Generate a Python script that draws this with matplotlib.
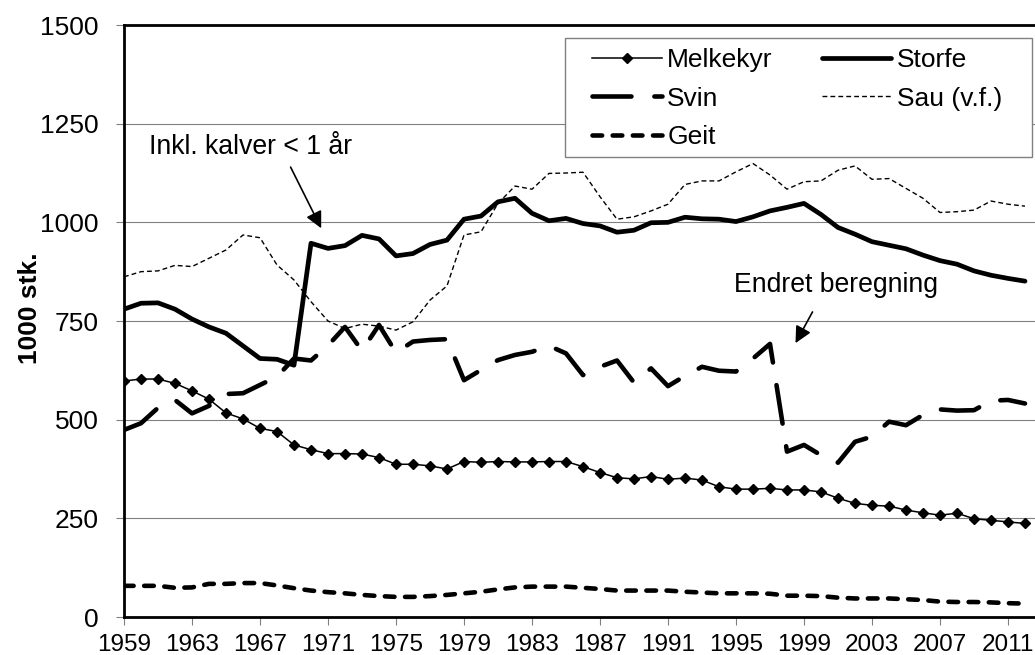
import numpy as np
import matplotlib
matplotlib.use("Agg")
import matplotlib.pyplot as plt
from matplotlib.patches import Rectangle

plt.rcParams['font.family'] = ['Liberation Sans', 'DejaVu Sans']

# Data (1000 stk.)
aar = list(range(1959, 2013))

melkekyr = [598, 603, 603, 592, 573, 552, 517, 502, 478, 470,
            436, 424, 414, 414, 413, 404, 387, 387, 383, 375,
            394, 392, 394, 393, 393, 394, 394, 381, 366, 353,
            350, 356, 349, 352, 347, 330, 324, 324, 326, 322,
            322, 317, 301, 288, 283, 281, 271, 264, 258, 263,
            249, 245, 241, 237]

storfe = [780, 795, 796, 780, 755, 735, 719, 687, 655, 653,
          638, 947, 934, 941, 967, 958, 915, 921, 944, 955,
          1008, 1016, 1052, 1061, 1023, 1004, 1010, 997, 991, 975,
          980, 999, 1000, 1013, 1009, 1008, 1002, 1014, 1029, 1038,
          1048, 1020, 987, 970, 951, 942, 933, 917, 903, 894,
          877, 866, 858, 851]

svin = [474, 491, 530, 550, 516, 535, 565, 567, 588, 609,
        655, 650, 688, 735, 675, 740, 670, 698, 702, 704,
        600, 626, 651, 664, 672, 687, 668, 613, 634, 650,
        594, 630, 585, 611, 634, 624, 622, 655, 692, 419,
        436, 410, 391, 444, 457, 495, 486, 512, 526, 523,
        524, 548, 550, 541]

sau = [862, 875, 877, 891, 888, 909, 930, 968, 961, 892,
       854, 799, 750, 731, 742, 737, 727, 748, 803, 839,
       968, 976, 1048, 1092, 1084, 1124, 1125, 1127, 1065, 1008,
       1014, 1029, 1046, 1096, 1105, 1105, 1128, 1149, 1120, 1084,
       1103, 1105, 1132, 1143, 1109, 1111, 1086, 1061, 1025, 1027,
       1031, 1054, 1046, 1041]

geit = [79, 79, 79, 74, 75, 84, 84, 86, 86, 80,
        73, 67, 63, 60, 56, 53, 51, 51, 53, 56,
        60, 64, 70, 75, 77, 77, 77, 74, 71, 67,
        67, 67, 67, 64, 62, 60, 60, 60, 59, 54,
        54, 53, 49, 47, 47, 47, 45, 43, 39, 38,
        38, 37, 35, 34]

yticks = [0, 250, 500, 750, 1000, 1250, 1500]
xticks = list(range(1959, 2012, 4))

fig = plt.figure(figsize=(10.35, 6.55), dpi=100)
ax = fig.add_axes([0.1198, 0.058, 0.8802, 0.9038])

ax.grid(axis='y', color='#808080', linewidth=0.8, zorder=0)
ax.set_axisbelow(True)

ax.plot(aar, melkekyr, color='black', linewidth=1.1, marker='D', markersize=5.5,
        label='Melkekyr', zorder=3)
ax.plot(aar, svin, color='black', linewidth=3.3, dashes=(8.5, 5.0),
        dash_capstyle='round', label='Svin', zorder=3)
ax.plot(aar, geit, color='black', linewidth=3.3, dashes=(2.1, 2.3),
        dash_capstyle='round', label='Geit', zorder=3)
ax.plot(aar, storfe, color='black', linewidth=3.4, solid_capstyle='round',
        solid_joinstyle='round', label='Storfe', zorder=3)
ax.plot(aar, sau, color='black', linewidth=1.0, dashes=(3.5, 2.2),
        label='Sau (v.f.)', zorder=3)

ax.set_xlim(1959, 1959 + 911 / 17.0)
ax.set_ylim(0, 1500)
ax.set_yticks(yticks)
ax.set_xticks(xticks)
ax.tick_params(axis='y', labelsize=19, length=6, width=0.8, color='#808080', pad=12)
ax.tick_params(axis='x', labelsize=17.5, length=6, width=0.8, color='#808080', pad=6)

for s in ['left', 'bottom', 'top']:
    ax.spines[s].set_linewidth(2.0)
    ax.spines[s].set_color('black')
ax.spines['right'].set_visible(False)

ax.set_ylabel('1000 stk.', fontsize=19, fontweight='bold', va='center')
ax.yaxis.set_label_coords(-0.103, 0.522)

# Merknader
ax.text(1960.5, 1191, 'Inkl. kalver < 1 år', fontsize=19.2, ha='left', va='center')
ax.annotate('', xy=(1970.6, 985), xytext=(1968.8, 1140),
            arrowprops=dict(arrowstyle='-|>', color='black', lw=1.2,
                            mutation_scale=25, shrinkA=0, shrinkB=0))
ax.text(1994.9, 841, 'Endret beregning', fontsize=19.2, ha='left', va='center')
ax.annotate('', xy=(1998.5, 694), xytext=(1999.5, 773),
            arrowprops=dict(arrowstyle='-|>', color='black', lw=1.2,
                            mutation_scale=25, shrinkA=0, shrinkB=0))

# Tegnforklaring: kolonnevis rekkefølge gir Melkekyr/Storfe, Svin/Sau, Geit
ramme = Rectangle((565 / 1035, 1 - 157 / 655), 467 / 1035, 119 / 655,
                  transform=fig.transFigure, facecolor='white',
                  edgecolor='#808080', linewidth=1.0, zorder=4.5, clip_on=False)
ax.add_patch(ramme)
leg = ax.legend(ncol=2, loc='upper left', bbox_to_anchor=(592 / 1035, 1 - 48 / 655),
                bbox_transform=fig.transFigure, fontsize=19, frameon=False,
                handlelength=2.65, handletextpad=0.2, columnspacing=1.85,
                labelspacing=0.55, borderpad=0, borderaxespad=0)
leg.set_zorder(6)

fig.savefig('out.png', dpi=100)
